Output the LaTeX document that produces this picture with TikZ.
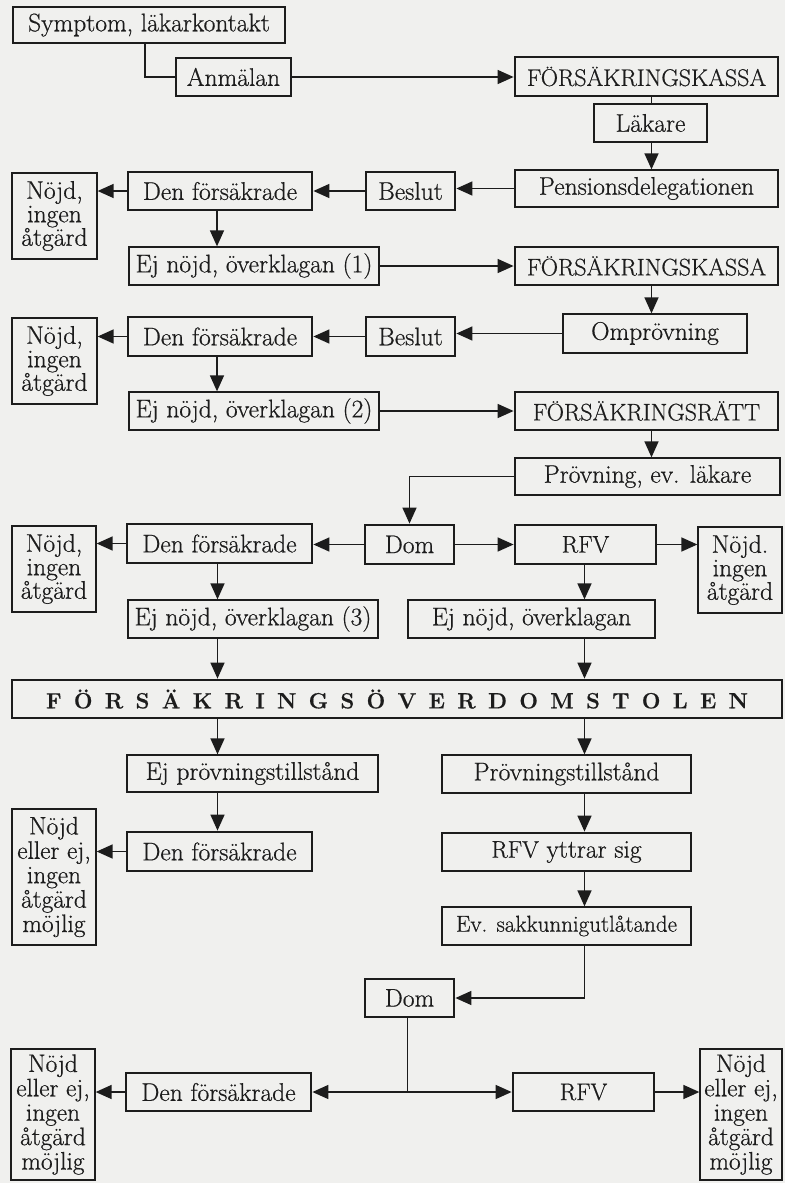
\documentclass[tikz,border=0pt]{standalone}
\usepackage{fontspec}
\setmainfont{Latin Modern Roman}[FakeBold=0.6]
\usetikzlibrary{arrows.meta}
\definecolor{bg}{RGB}{240,240,238}
\definecolor{ink}{RGB}{28,28,28}
\newcommand\fs{\fontsize{25.5}{23.5}\selectfont}
\newcommand\fn{\fontsize{25.3}{24.4}\selectfont}
\newcommand\fc{\fontsize{24}{24}\selectfont}
\newcommand\mybox[7]{\node[#6, minimum width={(#4-#2)*1pt}, minimum height={(#5-#3)*1pt}] (#1) at ({(#2+#4)/2},{(#3+#5)/2}) {#7};}
\tikzset{
  basebox/.style={draw=ink, text=ink, inner sep=0pt, align=center, font=\fs},
  thinbox/.style={basebox, line width=1.3pt},
  boldbox/.style={basebox, line width=2.8pt},
  arr/.style={-{Triangle[length=16pt,width=14pt]}, line width=1.5pt, draw=ink},
  ln/.style={line width=1.5pt, draw=ink}
}
\begin{document}
\begin{tikzpicture}[x=1pt,y=-1pt]
\fill[bg] (0,0) rectangle (785,1183);
\useasboundingbox (0,0) rectangle (785,1183);
\mybox{s}{13}{7}{285}{43}{thinbox}{Symptom, läkarkontakt}
\mybox{an}{176}{58}{291}{96}{thinbox}{Anmälan}
\mybox{fk1}{515}{57}{778}{96}{boldbox}{\fc FÖRSÄKRINGSKASSA}
\mybox{lak}{594}{104}{707}{142}{thinbox}{Läkare}
\mybox{pd}{515}{170}{778}{207}{thinbox}{Pensionsdelegationen}
\mybox{b1}{366}{172}{455}{210}{boldbox}{Beslut}
\mybox{df1}{128}{172}{312}{210}{boldbox}{Den försäkrade}
\mybox{n1}{12}{173}{97}{259}{thinbox}{Nöjd,\\ ingen\\ åtgärd}
\mybox{e1}{129}{247}{379}{285}{thinbox}{Ej nöjd, överklagan (1)}
\mybox{fk2}{515}{247}{778}{285}{boldbox}{\fc FÖRSÄKRINGSKASSA}
\mybox{omp}{563}{314}{747}{353}{thinbox}{Omprövning}
\mybox{b2}{366}{317}{455}{356}{boldbox}{Beslut}
\mybox{df2}{128}{317}{312}{356}{boldbox}{Den försäkrade}
\mybox{n2}{12}{318}{97}{404}{thinbox}{Nöjd,\\ ingen\\ åtgärd}
\mybox{e2}{129}{392}{379}{430}{thinbox}{Ej nöjd, överklagan (2)}
\mybox{fr}{515}{392}{778}{430}{boldbox}{\fc FÖRSÄKRINGSRÄTT}
\mybox{prov}{515}{458}{780}{495}{thinbox}{Prövning, ev. läkare}
\mybox{dom}{365}{525}{454}{564}{boldbox}{Dom}
\mybox{rfv}{515}{525}{656}{564}{boldbox}{\fc RFV}
\mybox{n3r}{698}{527}{782}{613}{thinbox}{Nöjd.\\ ingen\\ åtgärd}
\mybox{df3}{127}{524}{312}{563}{boldbox}{Den försäkrade}
\mybox{n3}{12}{526}{96}{612}{thinbox}{Nöjd,\\ ingen\\ åtgärd}
\mybox{e3}{128}{600}{378}{638}{thinbox}{Ej nöjd, överklagan (3)}
\mybox{ej}{408}{600}{655}{638}{thinbox}{Ej nöjd, överklagan}
\mybox{fov}{12}{680}{782}{718}{boldbox}{\bfseries\fontsize{22}{24}\selectfont\hbox to 702pt{F\hfill Ö\hfill R\hfill S\hfill Ä\hfill K\hfill R\hfill I\hfill N\hfill G\hfill S\hfill Ö\hfill V\hfill E\hfill R\hfill D\hfill O\hfill M\hfill S\hfill T\hfill O\hfill L\hfill E\hfill N}}
\mybox{ejp}{127}{755}{378}{792}{thinbox}{Ej prövningstillstånd}
\mybox{pt}{442}{755}{691}{793}{thinbox}{Prövningstillstånd}
\mybox{df4}{127}{832}{312}{871}{boldbox}{Den försäkrade}
\mybox{n4}{12}{809}{96}{945}{thinbox,font=\fn}{Nöjd\\ eller ej,\\ ingen\\ åtgärd\\ möjlig}
\mybox{ry}{442}{833}{691}{871}{boldbox}{{\fc RFV} yttrar sig}
\mybox{ev}{442}{907}{691}{945}{thinbox}{\fontsize{23}{24}\selectfont Ev. sakkunnigutlåtande}
\mybox{dom2}{365}{979}{454}{1017}{boldbox}{Dom}
\mybox{df5}{126}{1073}{311}{1111}{boldbox}{Den försäkrade}
\mybox{rfv2}{513}{1073}{654}{1111}{boldbox}{\fc RFV}
\mybox{n5}{11}{1049}{95}{1180}{thinbox,font=\fn}{Nöjd\\ eller ej,\\ ingen\\ åtgärd\\ möjlig}
\mybox{n6}{700}{1049}{782}{1180}{thinbox,font=\fn}{Nöjd\\ eller ej,\\ ingen\\ åtgärd\\ möjlig}
% connectors
\draw[ln] ([xshift=-4pt]s.south) |- (an.west);
\draw[arr] (an.east) -- (an.east -| fk1.west);
\draw[ln] ([xshift=5pt]fk1.south) -- ([xshift=5pt]fk1.south |- lak.north);
\draw[arr] ([xshift=5pt]fk1.south |- lak.south) -- ([xshift=5pt]fk1.south |- pd.north);
\draw[arr] (pd.west) -- (pd.west -| b1.east);
\draw[arr] (b1.west) -- (b1.west -| df1.east);
\draw[arr] (df1.west) -- (df1.west -| n1.east);
\draw[arr] ([xshift=-3pt]df1.south) -- ([xshift=-3pt]df1.south |- e1.north);
\draw[arr] (e1.east) -- (e1.east -| fk2.west);
\draw[arr] ([xshift=5pt]fk2.south) -- ([xshift=5pt]fk2.south |- omp.north);
\draw[arr] (omp.west) -- (omp.west -| b2.east);
\draw[arr] (b2.west) -- (b2.west -| df2.east);
\draw[arr] (df2.west) -- (df2.west -| n2.east);
\draw[arr] ([xshift=-3pt]df2.south) -- ([xshift=-3pt]df2.south |- e2.north);
\draw[arr] (e2.east) -- (e2.east -| fr.west);
\draw[arr] ([xshift=5pt]fr.south) -- ([xshift=5pt]fr.south |- prov.north);
\draw[arr] (prov.west) -| (dom.north);
\draw[arr] (dom.east) -- (dom.east -| rfv.west);
\draw[arr] (dom.west) -- (dom.west -| df3.east);
\draw[arr] (rfv.east) -- (rfv.east -| n3r.west);
\draw[arr] (df3.west) -- (df3.west -| n3.east);
\draw[arr] ([xshift=-2pt]df3.south) -- ([xshift=-2pt]df3.south |- e3.north);
\draw[arr] ([xshift=-2pt]df3.south |- e3.south) -- ([xshift=-2pt]df3.south |- fov.north);
\draw[arr] ([xshift=-1pt]rfv.south) -- ([xshift=-1pt]rfv.south |- ej.north);
\draw[arr] ([xshift=-1pt]rfv.south |- ej.south) -- ([xshift=-1pt]rfv.south |- fov.north);
\draw[arr] ([xshift=-2pt]df4.north |- fov.south) -- ([xshift=-2pt]df4.north |- ejp.north);
\draw[arr] ([xshift=-2pt]df4.north |- ejp.south) -- ([xshift=-2pt]df4.north);
\draw[arr] (df4.west) -- (df4.west -| n4.east);
\draw[arr] ([xshift=-1pt]rfv.south |- fov.south) -- ([xshift=-1pt]rfv.south |- pt.north);
\draw[arr] ([xshift=-1pt]rfv.south |- pt.south) -- ([xshift=-1pt]rfv.south |- ry.north);
\draw[arr] ([xshift=-1pt]rfv.south |- ry.south) -- ([xshift=-1pt]rfv.south |- ev.north);
\draw[arr] ([xshift=-1pt]rfv.south |- ev.south) |- (dom2.east);
\coordinate (j) at (dom2.south |- df5.east);
\draw[ln] ([xshift=-2pt]dom2.south) -- ([xshift=-2pt]j);
\draw[arr] ([xshift=-2pt]j) -- (df5.east);
\draw[arr] ([xshift=-2pt]j) -- (rfv2.west);
\draw[arr] (df5.west) -- (df5.west -| n5.east);
\draw[arr] (rfv2.east) -- (rfv2.east -| n6.west);
\end{tikzpicture}
\end{document}
